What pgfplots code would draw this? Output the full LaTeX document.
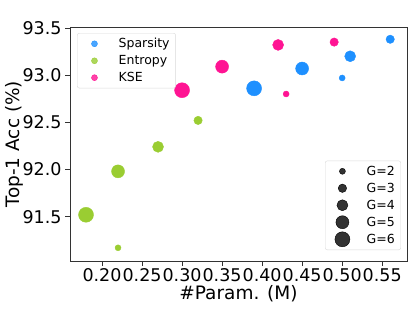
\documentclass[border=0pt]{standalone}
\usepackage{pgfplots}
\pgfplotsset{compat=1.18}
\usepackage{fontspec}
\setmainfont{DejaVu Sans}
\definecolor{cSpars}{RGB}{30,144,255}
\definecolor{cEntr}{RGB}{154,205,50}
\definecolor{cKSE}{RGB}{255,20,147}
\begin{document}
\begin{tikzpicture}
\useasboundingbox (-70pt,-47pt) rectangle (341pt,261pt);
\pgfplotsset{
  myscatter/.style={scatter, only marks, mark=*, forget plot,
    scatter/use mapped color={draw=#1, fill=#1},
    visualization depends on={\thisrow{r} \as \rad},
    scatter/@pre marker code/.append style={/tikz/mark size=\rad pt}},
  mylegend/.style={legend cell align=left,
    legend style={draw=black!15, rounded corners=2pt, fill=white, fill opacity=0.8, text opacity=1,
      font=\fontsize{12.5}{14}\selectfont, inner xsep=4pt, inner ysep=3pt,
      row sep=2.2pt},
    legend image code/.code={\path (0pt,0pt) (35pt,0pt); \draw[##1] plot coordinates {(13pt,0pt)};}},
}
\begin{axis}[
  at={(0,0)}, anchor=south west,
  scale only axis, width=337pt, height=234pt,
  xmin=0.16, xmax=0.581, ymin=91.03, ymax=93.51,
  xtick={0.20,0.25,...,0.56}, ytick={91.5,92.0,...,93.6},
  xticklabel style={/pgf/number format/fixed, /pgf/number format/fixed zerofill, /pgf/number format/precision=2, inner sep=1pt, yshift=-1.5pt},
  yticklabel style={/pgf/number format/fixed, /pgf/number format/fixed zerofill, /pgf/number format/precision=1},
  /pgf/number format/assume math mode=true,
  tick label style={font=\fontsize{17.5}{19}\selectfont},
  xtick pos=left, ytick pos=left, tick align=outside,
  major tick length=5pt,
  axis line style={black!80, line width=0.8pt},
  every tick/.style={black!80, line width=0.8pt},
  every axis x label/.style={at={(axis description cs:0.5,0)}, yshift=-33pt, anchor=center},
  every axis y label/.style={at={(axis description cs:0,0.5)}, xshift=-55.5pt, rotate=90, anchor=center},
  label style={font=\fontsize{18.5}{20}\selectfont},
  xlabel={\#Param. (M)}, ylabel={Top-1 Acc (\%)},
  mylegend,
  legend style={at={(0.021,0.974)}, anchor=north west},
]
\addlegendimage{only marks, mark=*, mark size=3pt, color=cSpars}
\addlegendentry{Sparsity}
\addlegendimage{only marks, mark=*, mark size=3pt, color=cEntr}
\addlegendentry{Entropy}
\addlegendimage{only marks, mark=*, mark size=3pt, color=cKSE}
\addlegendentry{KSE}
% Sparsity
\addplot[myscatter=cSpars] table[x=x,y=y]{
x y G r
0.56 93.38 3 4.2
0.51 93.20 4 5.5
0.50 92.97 2 3
0.45 93.07 5 6.5
0.39 92.86 6 7.5
};
% Entropy
\addplot[myscatter=cEntr] table[x=x,y=y]{
x y G r
0.32 92.52 3 4.2
0.27 92.24 4 5.5
0.22 91.98 5 6.5
0.18 91.52 6 7.5
0.22 91.17 2 3
};
% KSE
\addplot[myscatter=cKSE] table[x=x,y=y]{
x y G r
0.49 93.35 3 4.2
0.42 93.32 4 5.5
0.43 92.80 2 3
0.35 93.09 5 6.5
0.30 92.84 6 7.5
};
\end{axis}
\begin{axis}[
  at={(0,0)}, anchor=south west,
  scale only axis, width=337pt, height=234pt,
  xmin=0, xmax=1, ymin=0, ymax=1, hide axis,
  mylegend,
  legend style={at={(0.982,0.047)}, anchor=south east},
]
\addlegendimage{only marks, mark=*, mark size=3pt, color=black}
\addlegendentry{G=2}
\addlegendimage{only marks, mark=*, mark size=4.2pt, color=black}
\addlegendentry{G=3}
\addlegendimage{only marks, mark=*, mark size=5.5pt, color=black}
\addlegendentry{G=4}
\addlegendimage{only marks, mark=*, mark size=6.5pt, color=black}
\addlegendentry{G=5}
\addlegendimage{only marks, mark=*, mark size=7.5pt, color=black}
\addlegendentry{G=6}
\end{axis}
\end{tikzpicture}
\end{document}
